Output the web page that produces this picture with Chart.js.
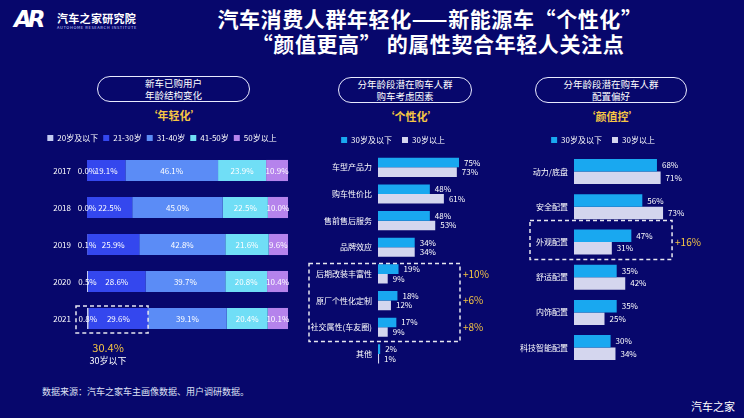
<!DOCTYPE html>
<html>
<head>
<meta charset="utf-8">
<script src="https://cdn.jsdelivr.net/npm/chart.js@4.4.0/dist/chart.umd.min.js"></script>
<style>
  html, body { margin: 0; padding: 0; }
  body {
    width: 744px; height: 418px; overflow: hidden; position: relative;
    background: #07076c;
    font-family: "Noto Sans CJK SC", "Noto Sans", sans-serif; color: #fff;
  }
  .abs { position: absolute; }
  .title { left: 130px; width: 600px; text-align: center; font-size: 21px; font-weight: 700; line-height: 25px; letter-spacing: 0.6px; }
  .pill {
    border: 1.5px solid #e8eaff; border-radius: 14px; text-align: center;
    font-size: 9.5px; line-height: 12px; box-sizing: border-box;
    display: flex; flex-direction: column; justify-content: center;
  }
  .tag { color: #f6c644; font-size: 11px; font-weight: 700; text-align: center; width: 100px; }
  canvas { position: absolute; }
</style>
</head>
<body>
<!-- logo -->
<div class="abs" style="left:14px;top:6px;font-size:23px;font-weight:900;font-style:italic;letter-spacing:-4px;font-family:'DejaVu Sans';">AR</div>
<div class="abs" style="left:57px;top:10px;font-size:11px;font-weight:700;letter-spacing:0.3px;">汽车之家研究院</div>
<div class="abs" style="left:57px;top:24px;font-size:4px;letter-spacing:0.6px;color:#cfd3ff;">AUTOHOME RESEARCH INSTITUTE</div>

<div class="abs title" style="top:6px;">汽车消费人群年轻化——新能源车“个性化”</div>
<div class="abs title" style="top:31px;left:138px;">“颜值更高”&nbsp;的属性契合年轻人关注点</div>

<div class="abs pill" style="left:97px;top:76px;width:153px;height:26px;"><div>新车已购用户</div><div>年龄结构变化</div></div>
<div class="abs pill" style="left:338px;top:77px;width:134px;height:26px;"><div>分年龄段潜在购车人群</div><div>购车考虑因素</div></div>
<div class="abs pill" style="left:535px;top:77px;width:152px;height:26px;"><div>分年龄段潜在购车人群</div><div>配置偏好</div></div>

<div class="abs tag" style="left:124px;top:107px;">‘年轻化’</div>
<div class="abs tag" style="left:361px;top:108px;">‘个性化’</div>
<div class="abs tag" style="left:562px;top:108px;">‘颜值控’</div>

<canvas id="ageChart" style="left:36px;top:126px;" width="266" height="250"></canvas>
<canvas id="factorChart" style="left:300px;top:126px;" width="240" height="252"></canvas>
<canvas id="configChart" style="left:510px;top:126px;" width="212" height="250"></canvas>

<div class="abs" style="left:42px;top:385px;font-size:9px;color:#dfe2f5;">数据来源：汽车之家车主画像数据、用户调研数据。</div>
<div class="abs" style="left:691px;top:398px;font-size:11px;color:#fff;">汽车之家</div>

<script>
// ---- data ----
const years = ['2017', '2018', '2019', '2020', '2021'];
const ageGroups = ['20岁及以下', '21-30岁', '31-40岁', '41-50岁', '50岁以上'];
const age20 = [0.0, 0.0, 0.1, 0.5, 0.8];
const age21to30 = [19.1, 22.5, 25.9, 28.6, 29.6];
const age31to40 = [46.1, 45.0, 42.8, 39.7, 39.1];
const age41to50 = [23.9, 22.5, 21.6, 20.8, 20.4];
const age50plus = [10.9, 10.0, 9.6, 10.4, 10.1];

const seriesNames = ['30岁及以下', '30岁以上'];

const factorLabels = ['车型产品力', '购车性价比', '售前售后服务', '品牌效应', '后期改装丰富性', '原厂个性化定制', '社交属性(车友圈)', '其他'];
const factorYoung = [75, 48, 48, 34, 19, 18, 17, 2];
const factorOld = [73, 61, 53, 34, 9, 12, 9, 1];

const configLabels = ['动力/底盘', '安全配置', '外观配置', '舒适配置', '内饰配置', '科技智能配置'];
const configYoung = [68, 56, 47, 35, 35, 30];
const configOld = [71, 73, 31, 42, 25, 34];

// ---- style ----
const FONT = '"Noto Sans CJK SC", sans-serif';
const GOLD = '#f6c644';
const BLUE = '#19a8f0';
const GREY = '#d4d6ee';
const ageColors = ['#c3cbf2', '#3447ee', '#5b8cf6', '#70def6', '#b583ec'];

Chart.defaults.font.family = FONT;
Chart.defaults.color = '#ffffff';
Chart.defaults.animation = false;

function legendOpts(padding) {
    return {
        display: true,
        position: 'top',
        labels: {
            color: '#ffffff',
            boxWidth: 6,
            boxHeight: 6,
            padding: padding,
            font: { size: 8 }
        }
    };
}

// fixed y axis width so the plot area lines up
function yAxisWidth(w) {
    return (axis) => { axis.width = w; };
}

// stacked labels, centred on each segment
const stackLabels = {
    id: 'stackLabels',
    afterDatasetsDraw(chart) {
        const ctx = chart.ctx;
        ctx.save();
        ctx.font = '8px ' + FONT;
        ctx.fillStyle = '#ffffff';
        ctx.textAlign = 'center';
        ctx.textBaseline = 'middle';
        chart.data.datasets.forEach((ds, i) => {
            chart.getDatasetMeta(i).data.forEach((bar, j) => {
                ctx.fillText(ds.data[j].toFixed(1) + '%', (bar.x + bar.base) / 2, bar.y);
            });
        });

        // highlight the 30-and-under share of the last year
        const last = years.length - 1;
        const under30 = age20[last] + age21to30[last];
        const xs = chart.scales.x;
        const bar = chart.getDatasetMeta(1).data[last];
        const left = chart.chartArea.left - 11;
        const right = xs.getPixelForValue(under30);
        const top = bar.y - bar.height / 2 - 2;
        const bottom = bar.y + bar.height / 2 + 4;
        ctx.strokeStyle = '#e8e8f0';
        ctx.lineWidth = 1.5;
        ctx.setLineDash([4, 3]);
        ctx.strokeRect(left, top, right - left, bottom - top);
        ctx.setLineDash([]);
        const cx = (left + right) / 2 - 4;
        ctx.fillStyle = GOLD;
        ctx.font = '11px ' + FONT;
        ctx.fillText(under30.toFixed(1) + '%', cx, bottom + 15);
        ctx.fillStyle = '#ffffff';
        ctx.font = '9px ' + FONT;
        ctx.fillText('30岁以下', cx, bottom + 28);
        ctx.restore();
    }
};

// value labels at bar ends, dashed box with gap labels
function groupLabels(boxFrom, boxTo, boxLeft, boxRightPad, boxTopPad, boxBottomPad) {
    return {
        id: 'groupLabels',
        afterDatasetsDraw(chart) {
            const ctx = chart.ctx;
            ctx.save();
            ctx.font = '8px ' + FONT;
            ctx.fillStyle = '#ffffff';
            ctx.textAlign = 'left';
            ctx.textBaseline = 'middle';
            chart.data.datasets.forEach((ds, i) => {
                chart.getDatasetMeta(i).data.forEach((bar, j) => {
                    ctx.fillText(ds.data[j] + '%', bar.x + 5, bar.y);
                });
            });

            const ys = chart.scales.y, xs = chart.scales.x;
            const half = (ys.getPixelForValue(1) - ys.getPixelForValue(0)) / 2;
            const young = chart.data.datasets[0].data;
            const old = chart.data.datasets[1].data;
            const maxVal = Math.max(...young, ...old);
            const left = boxLeft;
            const right = xs.getPixelForValue(maxVal) + boxRightPad;
            const top = ys.getPixelForValue(boxFrom) - half + boxTopPad;
            const bottom = ys.getPixelForValue(boxTo) + half + boxBottomPad;
            ctx.strokeStyle = '#e8e8f0';
            ctx.lineWidth = 1.5;
            ctx.setLineDash([4, 3]);
            ctx.strokeRect(left, top, right - left, bottom - top);
            ctx.setLineDash([]);

            ctx.fillStyle = GOLD;
            ctx.font = '10px ' + FONT;
            for (let k = boxFrom; k <= boxTo; k++) {
                ctx.fillText('+' + (young[k] - old[k]) + '%', right + 3, ys.getPixelForValue(k));
            }
            ctx.restore();
        }
    };
}

// ---- chart 1: age structure ----
new Chart(document.getElementById('ageChart'), {
    type: 'bar',
    data: {
        labels: years,
        datasets: [age20, age21to30, age31to40, age41to50, age50plus].map((d, i) => ({
            label: ageGroups[i],
            data: d,
            backgroundColor: ageColors[i],
            borderWidth: 0,
            barPercentage: 1,
            categoryPercentage: 0.57
        }))
    },
    options: {
        indexAxis: 'y',
        responsive: false,
        layout: { padding: { left: 0, right: 14, top: 3, bottom: 39 } },
        plugins: { legend: legendOpts(5), tooltip: { enabled: false } },
        scales: {
            x: { stacked: true, min: 0, max: 100, display: false },
            y: {
                stacked: true,
                afterFit: yAxisWidth(51),
                grid: { display: false, drawTicks: false },
                border: { display: false },
                ticks: { color: '#ffffff', padding: 16, font: { size: 8 } }
            }
        }
    },
    plugins: [stackLabels]
});

// ---- chart 2: purchase factors ----
new Chart(document.getElementById('factorChart'), {
    type: 'bar',
    data: {
        labels: factorLabels,
        datasets: [
            { label: seriesNames[0], data: factorYoung, backgroundColor: BLUE, barPercentage: 1, categoryPercentage: 0.72 },
            { label: seriesNames[1], data: factorOld, backgroundColor: GREY, barPercentage: 1, categoryPercentage: 0.72 }
        ]
    },
    options: {
        indexAxis: 'y',
        responsive: false,
        layout: { padding: { left: 0, right: 54, top: 0, bottom: 7 } },
        plugins: { legend: legendOpts(10), tooltip: { enabled: false } },
        scales: {
            x: { min: 0, max: 100, display: false },
            y: {
                afterFit: yAxisWidth(78),
                grid: { display: false, drawTicks: false },
                border: { display: false },
                ticks: { color: '#ffffff', padding: 6, font: { size: 8 } }
            }
        }
    },
    plugins: [groupLabels(4, 6, 9, 1, 3, 1)]
});

// ---- chart 3: configuration preference ----
new Chart(document.getElementById('configChart'), {
    type: 'bar',
    data: {
        labels: configLabels,
        datasets: [
            { label: seriesNames[0], data: configYoung, backgroundColor: BLUE, barPercentage: 1, categoryPercentage: 0.71 },
            { label: seriesNames[1], data: configOld, backgroundColor: GREY, barPercentage: 1, categoryPercentage: 0.71 }
        ]
    },
    options: {
        indexAxis: 'y',
        responsive: false,
        layout: { padding: { left: 0, right: 26, top: 0, bottom: 9 } },
        plugins: { legend: legendOpts(10), tooltip: { enabled: false } },
        scales: {
            x: { min: 0, max: 100, display: false },
            y: {
                afterFit: yAxisWidth(64),
                grid: { display: false, drawTicks: false },
                border: { display: false },
                ticks: { color: '#ffffff', padding: 6, font: { size: 8 } }
            }
        }
    },
    plugins: [groupLabels(2, 2, 20, 9, -4, 0)]
});
</script>
</body>
</html>
